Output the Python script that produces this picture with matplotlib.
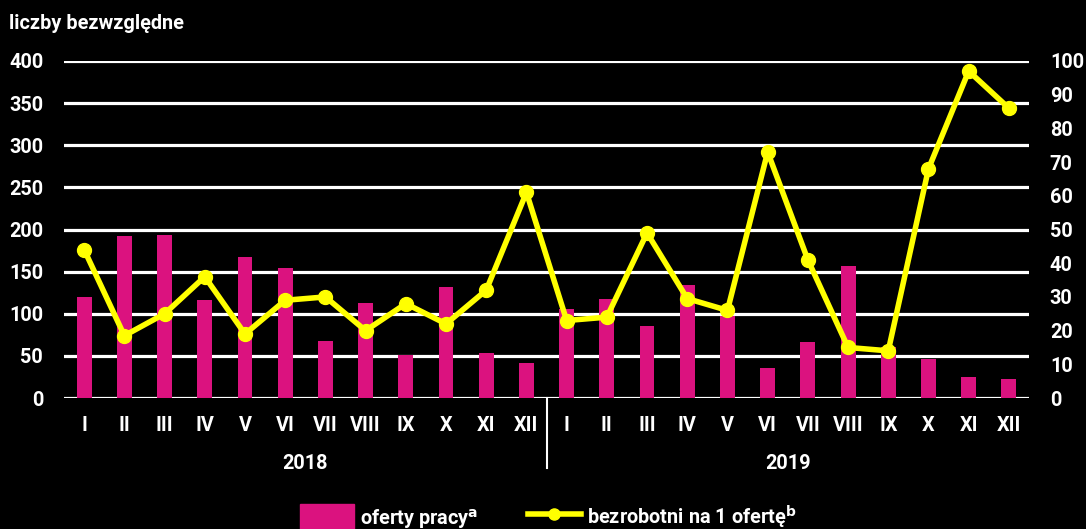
import matplotlib
matplotlib.use("Agg")
import matplotlib.pyplot as plt
from matplotlib.patches import Patch
from matplotlib.lines import Line2D

months = ["I", "II", "III", "IV", "V", "VI", "VII", "VIII", "IX", "X", "XI", "XII"]
years = ["2018", "2019"]
oferty_2018 = [120, 192, 193, 116, 167, 154, 68, 113, 51, 132, 54, 42]
oferty_2019 = [106, 117, 86, 134, 97, 36, 67, 157, 60, 46, 25, 23]
bezrob_2018 = [44, 18.5, 25, 36, 19, 29, 30, 20, 28, 22, 32, 61]
bezrob_2019 = [23, 24, 49, 29.5, 26, 73, 41, 15, 14, 68, 97, 86]
left_ticks = [0, 50, 100, 150, 200, 250, 300, 350, 400]
right_ticks = [0, 10, 20, 30, 40, 50, 60, 70, 80, 90, 100]

BAR = "#DB127F"
YEL = "#FFFF00"
WHITE = "#FFFFFF"
plt.rcParams['font.family'] = ['Roboto', 'DejaVu Sans']
plt.rcParams['font.weight'] = 'bold'
FS = 14.3

oferty = oferty_2018 + oferty_2019
bezrob = bezrob_2018 + bezrob_2019
labels = months + months
x = list(range(len(oferty)))

fig = plt.figure(figsize=(10.86, 5.29), dpi=100, facecolor="black")
ax = fig.add_axes([0.059, 0.2476, 0.8885, 0.6371], facecolor="black")
ax2 = ax.twinx()

ax.set_axisbelow(True)
ax.bar(x, oferty, width=0.37, color=BAR, zorder=2)
ax.set_ylim(0, 400)
ax.set_xlim(-0.5, len(x) - 0.5)
ax.set_yticks(left_ticks)
ax.set_yticklabels([str(t) for t in left_ticks])
ax.yaxis.grid(True, color=WHITE, linewidth=2.3, zorder=0)
ax.set_xticks(x)
ax.set_xticklabels(labels)
ax.tick_params(axis='both', length=0, colors=WHITE, labelsize=FS)
ax.tick_params(axis='x', pad=13)
ax.tick_params(axis='y', pad=15)
for s in ax.spines.values():
    s.set_visible(False)

ax2.plot(x, bezrob, color=YEL, linewidth=4, marker='o', markersize=10, zorder=3)
ax2.set_ylim(0, 100)
ax2.set_yticks(right_ticks)
ax2.set_yticklabels([str(t) for t in right_ticks])
ax2.tick_params(axis='y', length=0, colors=WHITE, labelsize=FS, pad=15)
for s in ax2.spines.values():
    s.set_visible(False)

# separator between years
ax.plot([11.5, 11.5], [0, -83], color=WHITE, linewidth=1.5, clip_on=False)
for i, yr in enumerate(years):
    ax.text(5.5 + 12 * i, -78, yr, ha='center', va='center', color=WHITE,
            fontsize=FS, fontweight='bold')

fig.text(0.008, 0.955, "liczby bezwzględne", color=WHITE, fontsize=FS,
         fontweight='bold', ha='left', va='center')

handles = [Patch(facecolor=BAR, edgecolor=BAR),
           Line2D([0], [0], color=YEL, linewidth=4, marker='o', markersize=8)]
leg = fig.legend(handles, ["oferty pracy$^{\\mathrm{a}}$", "bezrobotni na 1 ofertę$^{\\mathrm{b}}$"],
                 loc='center', bbox_to_anchor=(0.505, 0.022), ncol=2, frameon=False,
                 fontsize=FS, handlelength=2.7, handleheight=1.7, columnspacing=2.5,
                 handletextpad=0.3)
for t in leg.get_texts():
    t.set_color(WHITE)

fig.savefig("out.png", dpi=100, facecolor="black")
